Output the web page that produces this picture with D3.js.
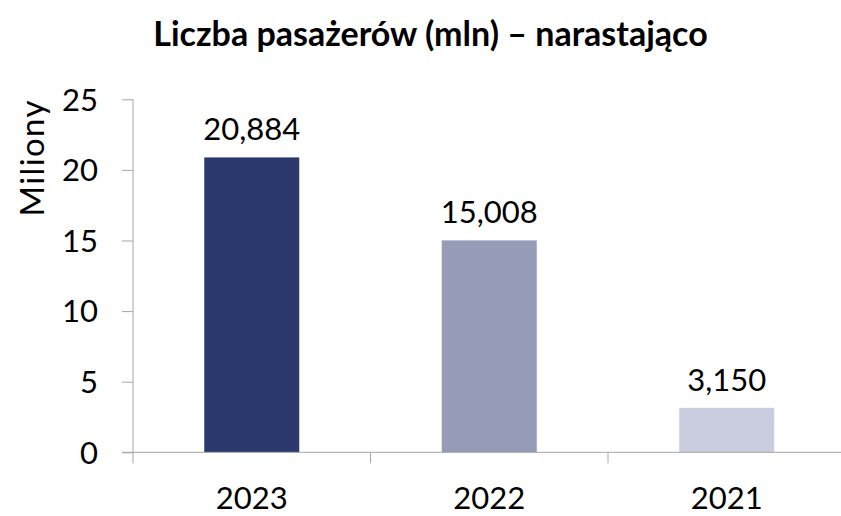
<!DOCTYPE html>
<html>
<head>
<meta charset="utf-8">
<script src="https://cdn.jsdelivr.net/npm/d3@7"></script>
<style>
  body { margin: 0; background: #fff; }
  text { font-family: Lato, "Open Sans", sans-serif; fill: #000; }
</style>
</head>
<body>
<svg id="chart" width="841" height="516"></svg>
<script>
// data
const categories = ["2023", "2022", "2021"];
const values = [20.884, 15.008, 3.150];
const barColors = ["#2a386e", "#959cb8", "#c9cddf"];
const yTicks = [0, 5, 10, 15, 20, 25];
const title = "Liczba pasażerów (mln) – narastająco";
const yLabel = "Miliony";

const svg = d3.select("#chart");
const plotLeft = 133, plotRight = 845.5, plotTop = 99.3, plotBottom = 452.3;

const x = d3.scaleBand().domain(categories).range([plotLeft, plotRight])
    .paddingInner(0.6).paddingOuter(0.3);
const y = d3.scaleLinear().domain([0, 25]).range([plotBottom, plotTop]);

const axisColor = "#a6a6a6";

// title
svg.append("text")
    .attr("x", 430.5).attr("y", 46)
    .attr("text-anchor", "middle")
    .style("font-weight", "bold")
    .style("font-size", "34px")
    .text(title);

// y axis label
svg.append("text")
    .attr("transform", "translate(44,158.5) rotate(-90)")
    .attr("text-anchor", "middle")
    .attr("textLength", 116)
    .attr("lengthAdjust", "spacing")
    .style("font-size", "33px")
    .text(yLabel);

// bars
svg.selectAll("rect.bar")
    .data(values)
    .enter().append("rect")
    .attr("class", "bar")
    .attr("x", (d, i) => x(categories[i]))
    .attr("width", x.bandwidth())
    .attr("y", d => y(d))
    .attr("height", d => y(0) - y(d))
    .attr("fill", (d, i) => barColors[i]);

// value labels, polish decimal comma
svg.selectAll("text.val")
    .data(values)
    .enter().append("text")
    .attr("class", "val")
    .attr("x", (d, i) => x(categories[i]) + x.bandwidth() / 2)
    .attr("y", d => y(d) - 17)
    .attr("text-anchor", "middle")
    .style("font-size", "31px")
    .text(d => d3.format(".3f")(d).replace(".", ","));

// y axis
const yAxis = svg.append("g")
    .attr("transform", "translate(" + plotLeft + ",0)")
    .call(d3.axisLeft(y).tickValues(yTicks).tickSize(11).tickPadding(24).tickSizeOuter(0));
yAxis.select(".domain").remove();
yAxis.selectAll("line").attr("stroke", axisColor);
yAxis.selectAll("text").style("font-size", "31px").attr("fill", "#000")
    .attr("font-family", null).attr("dy", "0.35em");
svg.append("line")
    .attr("x1", plotLeft).attr("x2", plotLeft)
    .attr("y1", plotTop).attr("y2", plotBottom + 11)
    .attr("stroke", axisColor);

// x axis
svg.append("line")
    .attr("x1", plotLeft - 11).attr("x2", 841)
    .attr("y1", plotBottom).attr("y2", plotBottom)
    .attr("stroke", axisColor);
const bounds = categories.slice(1).map(c => x(c) - x.step() * x.paddingInner() / 2);
svg.selectAll("line.xtick")
    .data(bounds)
    .enter().append("line")
    .attr("class", "xtick")
    .attr("x1", d => d).attr("x2", d => d)
    .attr("y1", plotBottom).attr("y2", plotBottom + 11)
    .attr("stroke", axisColor);
svg.selectAll("text.cat")
    .data(categories)
    .enter().append("text")
    .attr("class", "cat")
    .attr("x", d => x(d) + x.bandwidth() / 2)
    .attr("y", 509)
    .attr("text-anchor", "middle")
    .style("font-size", "31px")
    .text(d => d);
</script>
</body>
</html>
